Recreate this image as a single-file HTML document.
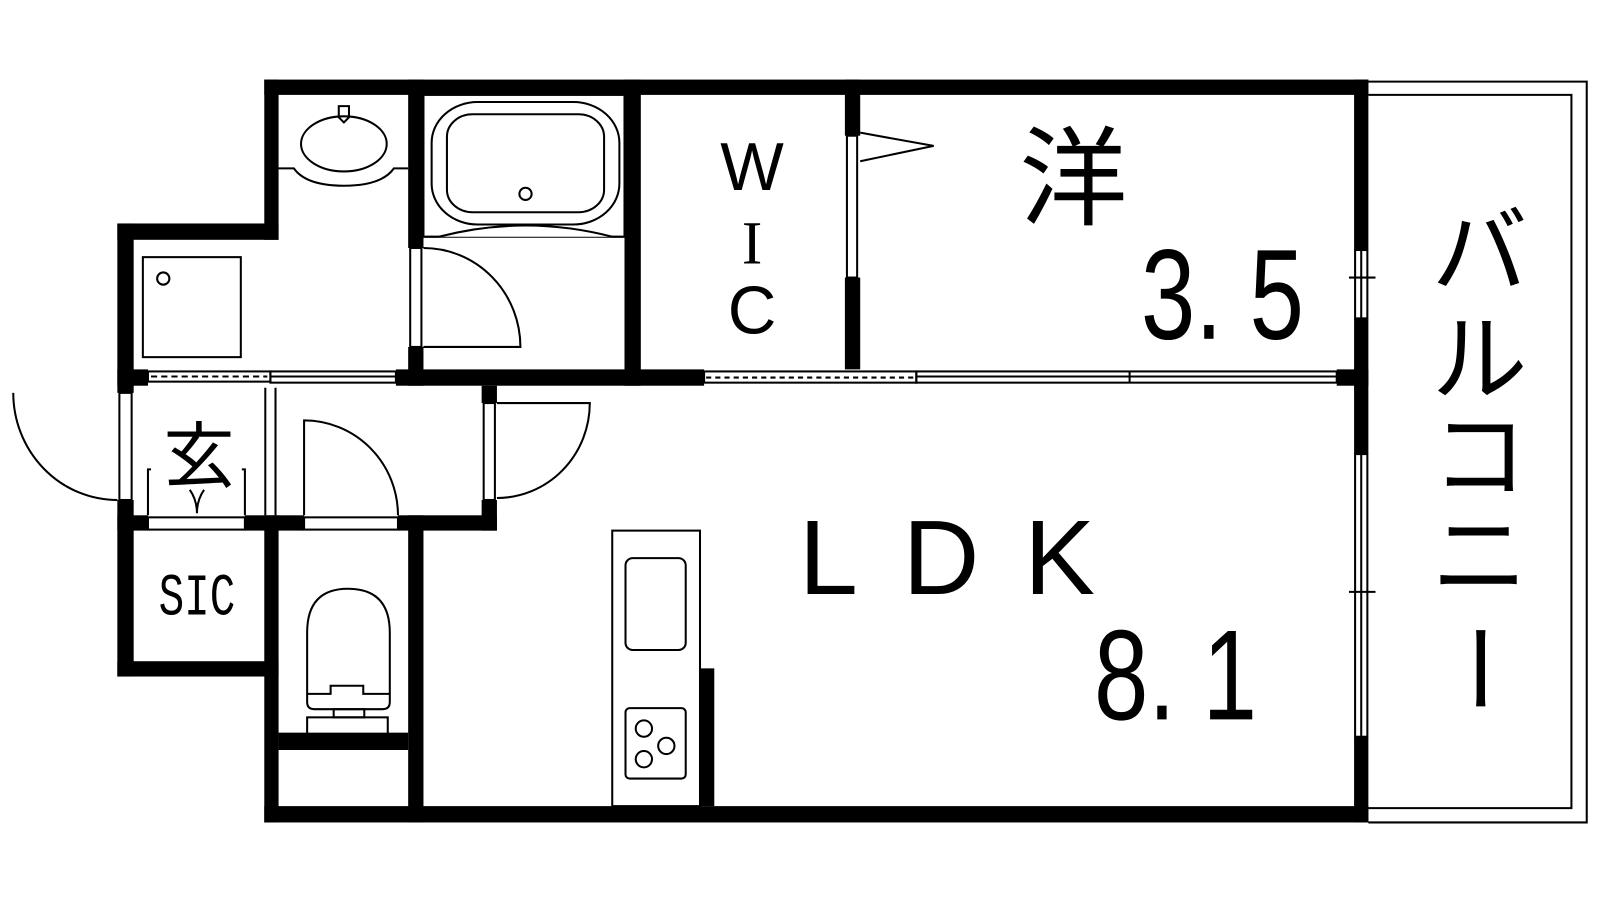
<!DOCTYPE html>
<html><head><meta charset="utf-8"><style>
html,body{margin:0;padding:0;background:#fff;width:1600px;height:900px;overflow:hidden}
svg{display:block}
text{font-family:"Liberation Sans","Noto Sans CJK JP",sans-serif;fill:#000}
</style></head><body>
<svg width="1600" height="900" viewBox="0 0 1568 882" xmlns="http://www.w3.org/2000/svg">
<rect width="1568" height="882" fill="#fff"/>
<g fill="none" stroke="#000" stroke-width="2">
<path d="M1341 80 H1555 V806 H1341"/>
<path d="M1341 93 H1540 V792 H1341"/>
</g>
<g fill="#000">
<rect x="259" y="78" width="1082" height="15"/>
<rect x="259" y="78" width="14" height="157"/>
<rect x="115" y="219" width="158" height="16"/>
<rect x="115" y="219" width="16" height="166"/>
<rect x="115" y="490" width="16" height="173"/>
<rect x="115" y="648" width="158" height="15"/>
<rect x="259" y="505" width="14" height="301"/>
<rect x="259" y="790" width="1082" height="16"/>
<rect x="1327" y="78" width="14" height="167"/>
<rect x="1327" y="312" width="14" height="133"/>
<rect x="1327" y="722" width="14" height="84"/>
<rect x="115" y="362" width="30" height="16"/>
<rect x="388" y="362" width="302" height="16"/>
<rect x="1310" y="362" width="31" height="16"/>
<rect x="400" y="78" width="15" height="165"/>
<rect x="400" y="340" width="15" height="38"/>
<rect x="612" y="78" width="16" height="300"/>
<rect x="828" y="78" width="15" height="55"/>
<rect x="828" y="272" width="15" height="90"/>
<rect x="115" y="505" width="30" height="15"/>
<rect x="240" y="505" width="58" height="15"/>
<rect x="390" y="505" width="97" height="15"/>
<rect x="472" y="378" width="15" height="17"/>
<rect x="472" y="490" width="15" height="30"/>
<rect x="400" y="505" width="15" height="301"/>
<rect x="273" y="718" width="127" height="17"/>
<rect x="686" y="655" width="14" height="135"/>
</g>
<g fill="none" stroke="#000" stroke-width="2">
<rect x="1328" y="245" width="12" height="67"/>
<line x1="1334" y1="245" x2="1334" y2="312"/>
<line x1="1322" y1="272" x2="1348" y2="272"/>
<rect x="1328" y="445" width="12" height="277"/>
<line x1="1334" y1="445" x2="1334" y2="722"/>
<line x1="1322" y1="580" x2="1348" y2="580"/>
<rect x="690" y="364" width="208" height="11"/>
<line x1="692" y1="370" x2="896" y2="370" stroke-dasharray="5 4"/>
<rect x="898" y="364" width="412" height="11"/>
<line x1="898" y1="369" x2="1310" y2="369"/>
<line x1="1107" y1="364" x2="1107" y2="375"/>
<rect x="145" y="364" width="120" height="10"/>
<line x1="148" y1="369" x2="262" y2="369" stroke-dasharray="6 4"/>
<rect x="265" y="364" width="123" height="11"/>
<line x1="265" y1="369" x2="388" y2="369"/>
<rect x="402" y="243" width="11" height="97"/>
<path d="M415 243 A95 97 0 0 1 510 340 H415"/>
<rect x="415" y="93" width="197" height="139"/>
<path d="M415 232 H430 Q515 210 600 232 H612" fill="#fff"/>
<rect x="423" y="100" width="184" height="120" rx="45" ry="40"/>
<rect x="438" y="112" width="154" height="96" rx="25" ry="22"/>
<circle cx="515" cy="190" r="6"/>
<path d="M273 165 H288 Q300 182 337 182 Q374 182 386 165 H400"/>
<ellipse cx="337" cy="141" rx="42" ry="27"/>
<path d="M332 104 H342 V115 L337 120 L332 115 Z"/>
<rect x="140" y="252" width="96" height="98"/>
<circle cx="160" cy="273" r="6"/>
<rect x="830" y="133" width="10" height="139"/>
<path d="M843 130 L915 143 L843 158"/>
<rect x="117" y="385" width="12" height="105"/>
<path d="M115 490 A102 105 0 0 1 13 385"/>
<line x1="260" y1="380" x2="260" y2="505"/>
<line x1="270" y1="380" x2="270" y2="505"/>
<rect x="145" y="507" width="95" height="12"/>
<path d="M148 460 H145 V505 M237 460 H240 V505"/>
<path d="M186 480 Q193 490 193 503 Q193 490 200 480"/>
<rect x="298" y="507" width="92" height="12"/>
<path d="M298 505 V412 A92 93 0 0 1 390 505"/>
<rect x="474" y="395" width="11" height="95"/>
<path d="M487 395 H578 A91 93 0 0 1 487 488"/>
<path d="M301 688 V620 Q301 577 341 577 Q382 577 382 620 V688 Q382 695 375 695 H308 Q301 695 301 688 Z"/>
<path d="M301 680 H324 V672 H356 V680 H382"/>
<rect x="327" y="695" width="30" height="8"/>
<rect x="301" y="703" width="79" height="17"/>
<rect x="600" y="520" width="86" height="270"/>
<rect x="613" y="547" width="59" height="90" rx="7"/>
<rect x="613" y="694" width="59" height="69" rx="4"/>
<circle cx="631" cy="714" r="8"/>
<circle cx="653" cy="731" r="8"/>
<circle cx="631" cy="744" r="8"/>
</g>
<g font-size="0">
<text x="737" y="186" font-size="66" text-anchor="middle">W</text>
<text x="737" y="258" font-size="60" text-anchor="middle" style="font-family:'Liberation Serif',serif">I</text>
<text x="737" y="327" font-size="66" text-anchor="middle">C</text>
<text x="1052" y="212" font-size="106" text-anchor="middle">洋</text>
<text transform="translate(1198,332) scale(0.76,1)" font-size="126" text-anchor="middle">3. 5</text>
<text x="950" y="582" font-size="104" text-anchor="middle" letter-spacing="44">LDK</text>
<text transform="translate(1152,705) scale(0.76,1)" font-size="126" text-anchor="middle">8. 1</text>
<text x="195" y="472" font-size="70" text-anchor="middle">玄</text>
<text transform="translate(193,602) scale(0.72,1)" font-size="58" text-anchor="middle" style="font-family:'Liberation Mono',monospace">SIC</text>
<text x="1450" y="280" font-size="94" text-anchor="middle">バ</text>
<text x="1450" y="385" font-size="94" text-anchor="middle">ル</text>
<text x="1450" y="480" font-size="94" text-anchor="middle">コ</text>
<text x="1450" y="578" font-size="94" text-anchor="middle">ニ</text>
<text x="1450" y="690" font-size="94" text-anchor="middle" transform="rotate(90 1450 655)">ー</text>
</g>
</svg>
</body></html>
